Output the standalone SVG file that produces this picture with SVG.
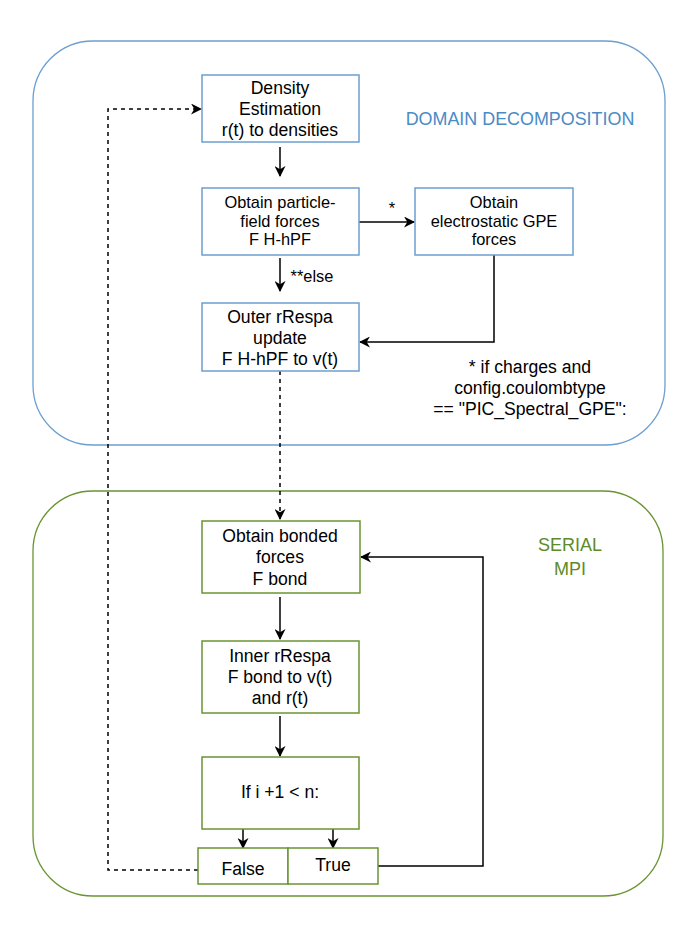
<svg xmlns="http://www.w3.org/2000/svg" width="691" height="929" viewBox="0 0 691 929">
<defs>
<style>
text{font-family:"Liberation Sans",Arial,sans-serif;font-size:17.6px;fill:#000;text-anchor:middle}
.sm{font-size:16.4px}
.blue{fill:#fff;stroke:#6c9fd0;stroke-width:1.5}
.green{fill:#fff;stroke:#6a9432;stroke-width:1.5}
.cont-b{fill:none;stroke:#6c9fd0;stroke-width:1.3}
.cont-g{fill:none;stroke:#6a9432;stroke-width:1.3}
.ln{fill:none;stroke:#000;stroke-width:1.5}
.dash{stroke-dasharray:4 4}
.tb{fill:#4a8bc5;font-size:17.9px}
.tg{fill:#5e8a27;font-size:18px}
</style>
<marker id="ah" viewBox="0 0 11 11" refX="10" refY="5.5" markerWidth="11" markerHeight="11" markerUnits="userSpaceOnUse" orient="auto">
<path d="M0,0 L11,5.5 L0,11 L3.3,5.5 Z" fill="#000"/>
</marker>
</defs>
<g id="domain">
<rect class="cont-b" x="33" y="41" width="632" height="404" rx="60"/>
<text class="tb" x="520" y="125">DOMAIN DECOMPOSITION</text>
</g>
<g id="serial">
<rect class="cont-g" x="33" y="491" width="630" height="405" rx="60"/>
<text class="tg" x="570" y="551">SERIAL</text>
<text class="tg" x="570" y="575">MPI</text>
</g>
<g id="connectors">
<path class="ln" d="M280,147 V176" marker-end="url(#ah)"/>
<path class="ln" d="M280,258 V291" marker-end="url(#ah)"/>
<path class="ln" d="M359,222 H414" marker-end="url(#ah)"/>
<path class="ln" d="M494,255 V342 H360" marker-end="url(#ah)"/>
<path class="ln dash" d="M280,371 V519" marker-end="url(#ah)"/>
<path class="ln" d="M280,597 V639" marker-end="url(#ah)"/>
<path class="ln" d="M280,716 V756" marker-end="url(#ah)"/>
<path class="ln" d="M243,829 V848" marker-end="url(#ah)"/>
<path class="ln" d="M333,829 V848" marker-end="url(#ah)"/>
<path class="ln" d="M378,866 H483 V557 H361" marker-end="url(#ah)"/>
<path class="ln dash" d="M198,870 H108 V109 H201" marker-end="url(#ah)"/>
<text class="sm" x="392" y="214">*</text>
<text class="sm" x="312" y="282">**else</text>
</g>
<g id="density">
<rect class="blue" x="202" y="75" width="157" height="67"/>
<text x="280" y="94">Density</text>
<text x="280" y="115">Estimation</text>
<text x="280" y="136">r(t) to densities</text>
</g>
<g id="particle">
<rect class="blue" x="202" y="188" width="157" height="67"/>
<text class="sm" x="280" y="208">Obtain particle-</text>
<text class="sm" x="280" y="226.5">field forces</text>
<text class="sm" x="280" y="245">F H-hPF</text>
</g>
<g id="electrostatic">
<rect class="blue" x="415" y="188" width="158" height="67"/>
<text class="sm" x="494" y="208">Obtain</text>
<text class="sm" x="494" y="226.5">electrostatic GPE</text>
<text class="sm" x="494" y="245">forces</text>
</g>
<g id="outer">
<rect class="blue" x="202" y="303" width="157" height="68"/>
<text x="280" y="322.5">Outer rRespa</text>
<text x="280" y="343.5">update</text>
<text x="280" y="364.5">F H-hPF to v(t)</text>
</g>
<g id="note">
<text x="530" y="373">* if charges and</text>
<text x="530" y="394">config.coulombtype</text>
<text x="530" y="415">== "PIC_Spectral_GPE":</text>
</g>
<g id="bonded">
<rect class="green" x="202" y="521" width="158" height="72"/>
<text x="280" y="542">Obtain bonded</text>
<text x="280" y="563">forces</text>
<text x="280" y="585">F bond</text>
</g>
<g id="inner">
<rect class="green" x="202" y="641" width="157" height="72"/>
<text x="280" y="662">Inner rRespa</text>
<text x="280" y="683">F bond to v(t)</text>
<text x="280" y="704">and r(t)</text>
</g>
<g id="ifbox">
<rect class="green" x="202" y="757" width="157" height="72"/>
<text x="280" y="798">If i +1 &lt; n:</text>
</g>
<g id="false">
<rect class="green" x="198" y="848" width="90" height="36"/>
<text x="243" y="875">False</text>
</g>
<g id="true">
<rect class="green" x="288" y="848" width="90" height="36"/>
<text x="333" y="871">True</text>
</g>
</svg>
